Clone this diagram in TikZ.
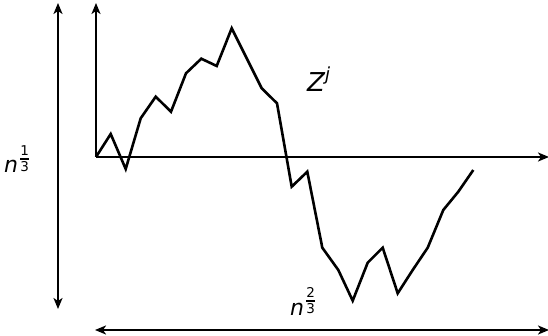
\documentclass[tikz,border=0pt]{standalone}
\usepackage{amsmath}
\usepackage{fontspec}
\setmainfont{DejaVu Sans}
\usetikzlibrary{arrows.meta}
\newcommand\digitfrac[2]{\kern1pt\raisebox{9pt}{$\genfrac{}{}{1.6pt}{1}{\text{\fontsize{13.5}{13.5}\selectfont\upshape #1}}{\text{\fontsize{13.5}{13.5}\selectfont\upshape #2}}$}}
\begin{document}
\begin{tikzpicture}[x=1pt,y=-1pt,
  ax/.style={line width=2.5pt,-{Stealth[length=11pt,width=9pt,inset=3pt]}},
  dbl/.style={line width=2.5pt,{Stealth[length=11pt,width=9pt,inset=3pt]}-{Stealth[length=11pt,width=9pt,inset=3pt]}},
  walk/.style={line width=2.6pt,line join=miter},
  lab/.style={inner sep=0pt,font=\fontsize{22}{26}\selectfont}]
\useasboundingbox (0,0) rectangle (548,336);
\coordinate (O) at (96,157);
\coordinate (Ytop) at (96,3);
\coordinate (Xend) at (549,157);
\coordinate (Ltop) at (58,3);
\coordinate (Lbot) at (58,309);
\coordinate (Bl) at (95,330);
\coordinate (Br) at (549,330);
\draw[ax] (O) -- (Ytop);
\draw[ax] (O) -- (Xend);
\draw[dbl] (Ltop) -- (Lbot);
\draw[dbl] (Bl) -- (Br);
\draw[walk] (O) -- (110.7,134) -- (125.7,169) -- (140.7,118.3) -- (155.7,96.7) -- (171,111.7)
  -- (186,73.3) -- (201.3,58.7) -- (216.7,66) -- (231.7,28.3) -- (246.7,58.3) -- (261.7,88.3)
  -- (277,103.3) -- (291.7,186.7) -- (307.3,171.7) -- (322.3,247.7) -- (338.3,270)
  -- (352.7,300.7) -- (367.7,262.7) -- (382.7,247.7) -- (397.7,293.3) -- (412.7,270)
  -- (427.7,247.7) -- (443.3,210) -- (458.3,191.7) -- (473.3,170);
\node[lab,anchor=base west,font=\fontsize{26}{30}\selectfont] (zj) at (307,92) {\itshape Z\raisebox{11pt}{\fontsize{18}{18}\selectfont j}};
\node[lab,anchor=base west] (n13) at (4,173) {\itshape n\digitfrac{1}{3}};
\node[lab,anchor=base west] (n23) at (290,315) {\itshape n\digitfrac{2}{3}};
\end{tikzpicture}
\end{document}
